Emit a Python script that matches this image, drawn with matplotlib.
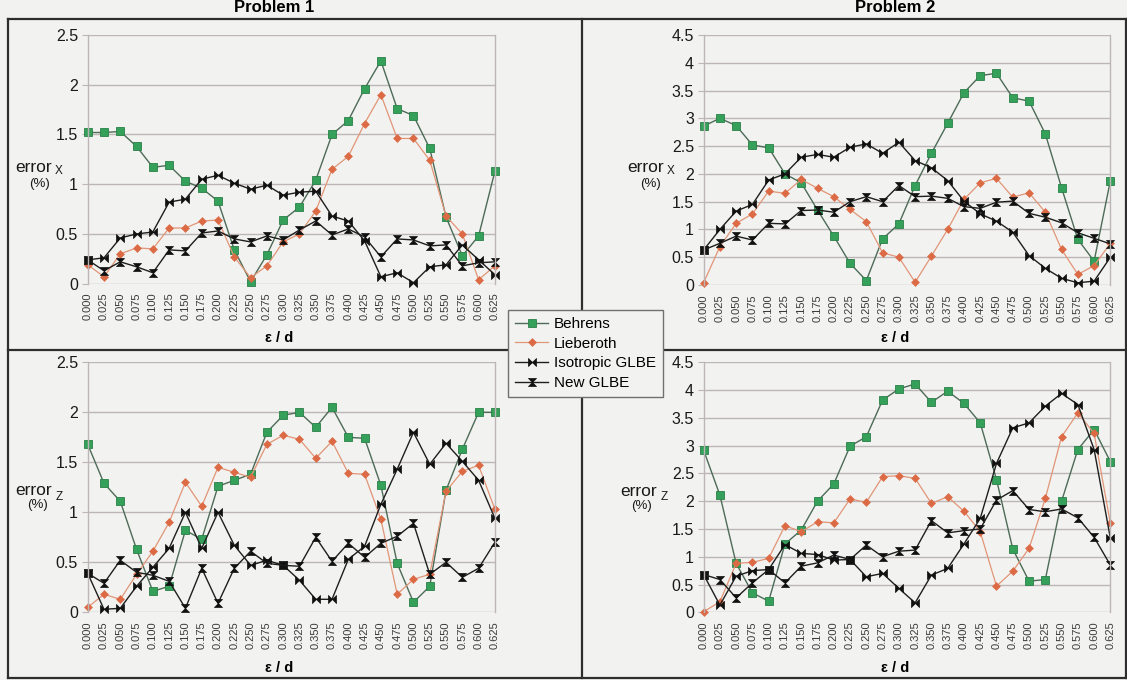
import matplotlib
matplotlib.use("Agg")
import matplotlib.pyplot as plt
from matplotlib.path import Path
from matplotlib.lines import Line2D

plt.rcParams['font.family'] = ['Liberation Sans', 'DejaVu Sans']

# eps / d positions along the horizontal axis
eps = [0.000, 0.025, 0.050, 0.075, 0.100, 0.125, 0.150, 0.175, 0.200, 0.225,
       0.250, 0.275, 0.300, 0.325, 0.350, 0.375, 0.400, 0.425, 0.450, 0.475,
       0.500, 0.525, 0.550, 0.575, 0.600, 0.625]
eps_labels = [f"{v:.3f}" for v in eps]

series_names = ["Behrens", "Lieberoth", "Isotropic GLBE", "New GLBE"]

# Problem 1, error in x (%)
beh_p1_x = [1.52, 1.52, 1.53, 1.38, 1.17, 1.19, 1.03, 0.96, 0.83, 0.34, 0.02, 0.29, 0.64,
            0.77, 1.04, 1.50, 1.64, 1.96, 2.24, 1.76, 1.69, 1.36, 0.67, 0.28, 0.48, 1.13]
lie_p1_x = [0.19, 0.07, 0.30, 0.36, 0.35, 0.56, 0.56, 0.63, 0.64, 0.27, 0.06, 0.18, 0.42,
            0.50, 0.73, 1.15, 1.28, 1.61, 1.90, 1.46, 1.46, 1.24, 0.68, 0.50, 0.04, 0.18]
iso_p1_x = [0.24, 0.26, 0.46, 0.50, 0.52, 0.82, 0.85, 1.05, 1.09, 1.01, 0.95, 0.99, 0.89,
            0.92, 0.93, 0.68, 0.63, 0.43, 0.07, 0.11, 0.01, 0.17, 0.19, 0.39, 0.24, 0.09]
new_p1_x = [0.24, 0.13, 0.22, 0.17, 0.11, 0.34, 0.33, 0.51, 0.53, 0.45, 0.42, 0.48, 0.44,
            0.54, 0.63, 0.49, 0.55, 0.47, 0.27, 0.45, 0.44, 0.38, 0.39, 0.18, 0.21, 0.22]

# Problem 2, error in x (%)
beh_p2_x = [2.86, 3.00, 2.87, 2.52, 2.47, 2.00, 1.84, 1.35, 0.88, 0.39, 0.08, 0.83, 1.10,
            1.79, 2.37, 2.91, 3.46, 3.77, 3.81, 3.37, 3.31, 2.72, 1.75, 0.82, 0.43, 1.88]
lie_p2_x = [0.04, 0.69, 1.11, 1.28, 1.69, 1.65, 1.90, 1.74, 1.59, 1.36, 1.14, 0.58, 0.50,
            0.05, 0.52, 1.00, 1.54, 1.84, 1.92, 1.58, 1.66, 1.31, 0.64, 0.19, 0.35, 0.75]
iso_p2_x = [0.63, 1.00, 1.33, 1.45, 1.89, 2.00, 2.30, 2.35, 2.30, 2.48, 2.54, 2.37, 2.57,
            2.24, 2.11, 1.88, 1.51, 1.28, 1.15, 0.95, 0.53, 0.30, 0.12, 0.04, 0.07, 0.50]
new_p2_x = [0.63, 0.75, 0.88, 0.81, 1.11, 1.10, 1.34, 1.35, 1.31, 1.50, 1.59, 1.50, 1.79,
            1.59, 1.60, 1.56, 1.41, 1.38, 1.49, 1.51, 1.29, 1.22, 1.12, 0.94, 0.84, 0.74]

# Problem 1, error in z (%)
beh_p1_z = [1.68, 1.29, 1.11, 0.63, 0.21, 0.26, 0.82, 0.73, 1.26, 1.32, 1.38, 1.80, 1.97,
            2.00, 1.85, 2.05, 1.75, 1.74, 1.27, 0.49, 0.10, 0.26, 1.22, 1.63, 2.00, 2.00]
lie_p1_z = [0.05, 0.18, 0.13, 0.38, 0.61, 0.90, 1.30, 1.06, 1.45, 1.40, 1.35, 1.68, 1.77,
            1.73, 1.54, 1.71, 1.39, 1.38, 0.93, 0.18, 0.33, 0.38, 1.21, 1.41, 1.47, 1.03]
iso_p1_z = [0.39, 0.03, 0.04, 0.26, 0.45, 0.64, 1.00, 0.64, 1.00, 0.67, 0.47, 0.52, 0.47,
            0.32, 0.13, 0.13, 0.53, 0.66, 1.08, 1.43, 1.80, 1.48, 1.69, 1.51, 1.32, 0.94]
new_p1_z = [0.39, 0.29, 0.52, 0.40, 0.37, 0.31, 0.04, 0.44, 0.09, 0.44, 0.61, 0.49, 0.47,
            0.46, 0.75, 0.51, 0.69, 0.55, 0.69, 0.76, 0.89, 0.38, 0.50, 0.35, 0.44, 0.70]

# Problem 2, error in z (%)
beh_p2_z = [2.92, 2.11, 0.88, 0.35, 0.20, 1.23, 1.48, 2.00, 2.31, 2.99, 3.16, 3.82, 4.02,
            4.11, 3.78, 3.98, 3.76, 3.41, 2.39, 1.14, 0.56, 0.59, 2.00, 2.93, 3.29, 2.71]
lie_p2_z = [0.01, 0.19, 0.88, 0.90, 0.97, 1.56, 1.45, 1.63, 1.61, 2.04, 1.98, 2.44, 2.46,
            2.41, 1.96, 2.08, 1.82, 1.45, 0.47, 0.74, 1.15, 2.05, 3.16, 3.59, 3.22, 1.60]
iso_p2_z = [0.68, 0.13, 0.65, 0.75, 0.77, 1.22, 1.06, 1.04, 0.94, 0.95, 0.64, 0.70, 0.43,
            0.17, 0.67, 0.79, 1.23, 1.69, 2.68, 3.32, 3.41, 3.71, 3.94, 3.74, 2.93, 1.33]
new_p2_z = [0.68, 0.59, 0.26, 0.53, 0.77, 0.53, 0.83, 0.89, 1.03, 0.95, 1.21, 1.00, 1.10,
            1.12, 1.65, 1.43, 1.47, 1.50, 2.02, 2.19, 1.85, 1.81, 1.86, 1.70, 1.35, 0.85]

BG = '#f2f2f0'
GRID = '#bcb6b6'

# custom markers: sideways bow-tie and hourglass
bowtie = Path([(-1, -1), (-1, 1), (0, 0), (-1, -1), (1, -1), (1, 1), (0, 0), (1, -1)],
              [Path.MOVETO, Path.LINETO, Path.LINETO, Path.CLOSEPOLY,
               Path.MOVETO, Path.LINETO, Path.LINETO, Path.CLOSEPOLY])
hourglass = Path([(-1, 1), (1, 1), (0, 0), (-1, 1), (-1, -1), (1, -1), (0, 0), (-1, -1)],
                 [Path.MOVETO, Path.LINETO, Path.LINETO, Path.CLOSEPOLY,
                  Path.MOVETO, Path.LINETO, Path.LINETO, Path.CLOSEPOLY])

styles = [
    dict(color='#4d6b57', lw=1.0, marker='s', ms=6.0, mfc='#35a05a', mec='#2a8048', mew=0.6),
    dict(color='#e29577', lw=0.9, marker='D', ms=4.2, mfc='#dc6a45', mec='#dc6a45', mew=0.4),
    dict(color='#1e1e1e', lw=1.0, marker=bowtie, ms=5.8, mfc='#111111', mec='#111111', mew=0.5),
    dict(color='#1e1e1e', lw=1.0, marker=hourglass, ms=5.8, mfc='#111111', mec='#111111', mew=0.5),
]

W, H = 1127, 680
fig = plt.figure(figsize=(W / 100, H / 100), dpi=100, facecolor=BG)


def fx(px):
    return px / W


def fy(py):
    return 1 - py / H


panels = [
    # (left px, right px, top px, bottom px, ymax, data, subscript)
    (87.7, 494.9, 35.0, 283.7, 2.5, [beh_p1_x, lie_p1_x, iso_p1_x, new_p1_x], 'X'),
    (703.6, 1110.4, 35.0, 285.0, 4.5, [beh_p2_x, lie_p2_x, iso_p2_x, new_p2_x], 'X'),
    (87.7, 494.9, 362.3, 612.3, 2.5, [beh_p1_z, lie_p1_z, iso_p1_z, new_p1_z], 'Z'),
    (703.6, 1110.4, 362.3, 612.3, 4.5, [beh_p2_z, lie_p2_z, iso_p2_z, new_p2_z], 'Z'),
]

handles = []
for i, (l, r, t, b, ymax, data, sub) in enumerate(panels):
    ax = fig.add_axes([fx(l), fy(b), fx(r) - fx(l), (b - t) / H])
    ax.set_facecolor('none')
    xs = list(range(len(eps)))
    for vals, st in zip(data, styles):
        h, = ax.plot(xs, vals, clip_on=False, **st)
        if i == 0:
            handles.append(h)
    ax.set_xlim(0, len(eps) - 1)
    ax.set_ylim(0, ymax)
    yt = [k * 0.5 for k in range(int(round(ymax / 0.5)) + 1)]
    ax.set_yticks(yt)
    ax.set_yticklabels([f"{v:g}" for v in yt], fontsize=11.5, color='#1a1a1a')
    ax.set_xticks(xs)
    ax.set_xticklabels(eps_labels, rotation=90, fontsize=8, color='#3a3a3a')
    ax.tick_params(axis='x', length=0, pad=6.5)
    ax.tick_params(axis='y', length=4, width=0.8, color=GRID, pad=3)
    ax.yaxis.grid(True, color=GRID, lw=1.0)
    ax.set_axisbelow(True)
    for side in ['top', 'bottom']:
        ax.spines[side].set_visible(False)
    for side in ['left', 'right']:
        ax.spines[side].set_color(GRID)
        ax.spines[side].set_linewidth(1.0)

# y-axis captions
caps = [
    (15.5, 167.5, 55.0, 171.5, 39.5, 184.0, 'X'),
    (627.0, 167.5, 666.5, 171.5, 650.5, 184.5, 'X'),
    (15.5, 490.5, 56.0, 497.0, 38.0, 505.0, 'Z'),
    (620.0, 491.5, 661.0, 497.5, 642.0, 506.0, 'Z'),
]
for ex, ey, sx, sy, px, py, sub in caps:
    fig.text(fx(ex), fy(ey), "error", fontsize=12.5, ha='left', va='center', color='#1a1a1a')
    fig.text(fx(sx), fy(sy), sub, fontsize=8.5, ha='left', va='center', color='#1a1a1a')
    fig.text(fx(px), fy(py), "(%)", fontsize=9.5, ha='center', va='center', color='#1a1a1a')

# x-axis captions and column titles
for cx in (279, 895):
    fig.text(fx(cx), fy(338), "ε / d", fontsize=10.5, fontweight='bold', ha='center', va='center')
    fig.text(fx(cx), fy(668), "ε / d", fontsize=10.5, fontweight='bold', ha='center', va='center')
fig.text(fx(274), fy(8), "Problem 1", fontsize=12, fontweight='bold', ha='center', va='center')
fig.text(fx(895), fy(8), "Problem 2", fontsize=12, fontweight='bold', ha='center', va='center')

# frame around the four panels
FRAME = '#2e2e2e'
segments = [
    ((8, 1126), (19, 19)),
    ((8, 1126), (678, 678)),
    ((8, 8), (19, 678)),
    ((1126, 1126), (19, 678)),
    ((582, 582), (19, 310)),
    ((582, 582), (397, 678)),
    ((8, 508), (350, 350)),
    ((661, 1126), (350, 350)),
]
for xsg, ysg in segments:
    fig.add_artist(Line2D([fx(v) for v in xsg], [fy(v) for v in ysg],
                          color=FRAME, lw=1.6, transform=fig.transFigure))

leg = fig.legend(handles, series_names, loc='upper left',
                 bbox_to_anchor=(fx(508), fy(310)), borderaxespad=0,
                 fontsize=11, frameon=True, fancybox=False, edgecolor='#707070',
                 facecolor=BG, framealpha=1.0, handlelength=2.2, handletextpad=0.35,
                 labelspacing=0.38, borderpad=0.45)
leg.get_frame().set_linewidth(1.0)

fig.savefig("out.png", dpi=100, facecolor=BG)
